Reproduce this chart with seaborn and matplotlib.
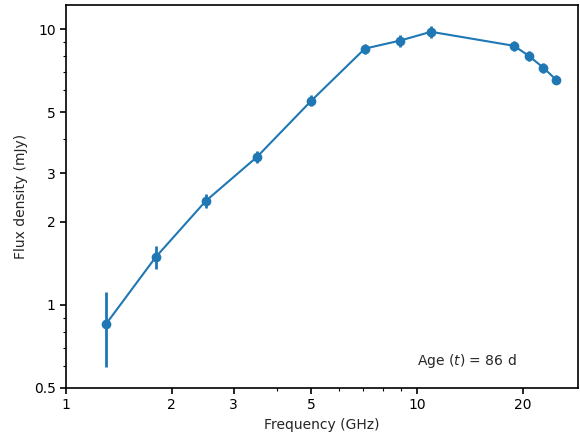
import matplotlib
matplotlib.use('Agg')
import matplotlib.pyplot as plt
import matplotlib.ticker as ticker
import seaborn as sns

# radio spectrum at 86 days
freq_ghz = [1.30, 1.80, 2.50, 3.50, 5.00, 7.10, 8.95, 10.96, 18.9, 20.8, 22.9, 24.9]
flux_mjy = [0.853, 1.49, 2.38, 3.44, 5.50, 8.49, 9.08, 9.77, 8.69, 8.00, 7.24, 6.55]
flux_err = [0.26, 0.14, 0.14, 0.17, 0.26, 0.36, 0.45, 0.50, 0.38, 0.35, 0.30, 0.25]
y_ticks = [0.5, 1, 2, 3, 5, 10]
x_ticks = [1, 2, 3, 5, 10, 20]

sns.set_style('ticks')
fig = plt.figure(figsize=(5.8, 4.32), dpi=100)
ax = fig.add_axes([0.114, 0.102, 0.883, 0.886])

color = '#1f77b4'
ax.errorbar(freq_ghz, flux_mjy, yerr=flux_err, fmt='none', ecolor=color, elinewidth=2, capsize=0)
sns.lineplot(x=freq_ghz, y=flux_mjy, marker='o', markersize=7, markeredgewidth=0,
             color=color, linewidth=1.5, ax=ax)

ax.set_xscale('log')
ax.set_yscale('log')
ax.set_xlim(1, 28.8)
ax.set_ylim(0.5, 12.2)

ax.xaxis.set_major_locator(ticker.FixedLocator(x_ticks))
ax.xaxis.set_major_formatter(ticker.FixedFormatter([str(t) for t in x_ticks]))
ax.yaxis.set_major_locator(ticker.FixedLocator(y_ticks))
ax.yaxis.set_major_formatter(ticker.FixedFormatter([str(t) for t in y_ticks]))
ax.xaxis.set_minor_locator(ticker.LogLocator(base=10, subs=range(2, 10)))
ax.yaxis.set_minor_locator(ticker.LogLocator(base=10, subs=range(2, 10)))
ax.xaxis.set_minor_formatter(ticker.NullFormatter())
ax.yaxis.set_minor_formatter(ticker.NullFormatter())

for s in ax.spines.values():
    s.set_color('black')
    s.set_linewidth(1.2)
ax.tick_params(which='major', length=4, width=1.2, colors='black', labelsize=10)
ax.tick_params(which='minor', length=2, width=0.8, colors='black')

ax.set_xlabel('Frequency (GHz)', fontsize=10)
ax.set_ylabel('Flux density (mJy)', fontsize=10)
ax.text(0.685, 0.06, 'Age ($t$) = 86 d', transform=ax.transAxes, fontsize=10)

fig.savefig('out.png', dpi=100)
